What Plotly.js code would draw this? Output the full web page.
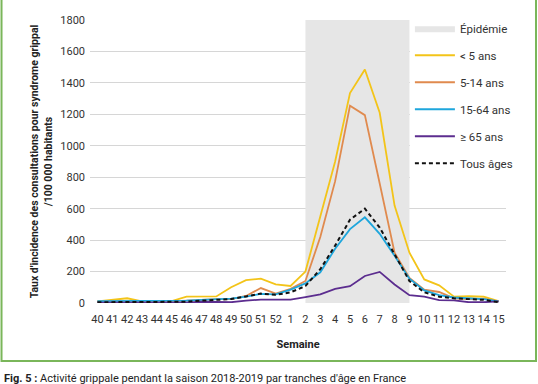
<!DOCTYPE html>
<html>
<head>
<meta charset="utf-8">
<script src="https://cdn.plot.ly/plotly-3.0.1.min.js"></script>
<style>
html,body{margin:0;padding:0;background:#fff;}
#chart{width:538px;height:384px;}
</style>
</head>
<body>
<div id="chart"></div>
<script>
// Semaines (saison 2018-2019)
const weeks = ['40','41','42','43','44','45','46','47','48','49','50','51','52','1','2','3','4','5','6','7','8','9','10','11','12','13','14','15'];
// Période épidémique (début, fin)
const epidemicWeeks = ['2','9'];
const epidemicRange = [0, 1800];
// Taux d'incidence /100 000 habitants
const under5   = [10,20,30,10,10,12,40,42,42,100,145,155,118,108,200,550,900,1335,1485,1210,620,320,150,112,40,43,40,12];
const age5_14  = [10,10,10,10,10,10,15,20,25,25,45,95,60,90,140,420,775,1255,1195,760,320,160,85,70,30,25,28,8];
const age15_64 = [12,12,12,12,12,12,15,20,25,28,40,58,55,85,125,195,345,470,545,440,300,155,80,50,35,30,25,10];
const age65    = [3,3,3,3,3,3,3,8,8,5,15,22,22,22,38,55,90,107,172,198,118,50,40,18,17,5,5,10];
const allAges  = [5,5,5,5,5,5,8,15,22,25,42,60,52,68,108,215,365,530,600,480,310,140,68,40,30,25,20,5];
const seriesNames = ['Épidémie','< 5 ans','5-14 ans','15-64 ans','≥ 65 ans','Tous âges'];

const FONT = 'Roboto, "Noto Sans", sans-serif';
const traces = [
  {
    x: [epidemicWeeks[0], epidemicWeeks[0], epidemicWeeks[1], epidemicWeeks[1], epidemicWeeks[0]],
    y: [epidemicRange[0], epidemicRange[1], epidemicRange[1], epidemicRange[0], epidemicRange[0]],
    mode: 'lines', fill: 'toself', fillcolor: '#e6e6e6',
    line: {width: 0, color: '#e6e6e6'}, name: seriesNames[0], legendgroup: 'g0', hoverinfo: 'skip'
  },
  {x: weeks, y: under5, mode: 'lines', name: seriesNames[1], line: {color: '#f3c419', width: 1.8}, legendgroup: 'g1'},
  {x: weeks, y: age5_14, mode: 'lines', name: seriesNames[2], line: {color: '#e08a4e', width: 1.8}, legendgroup: 'g2'},
  {x: weeks, y: age15_64, mode: 'lines', name: seriesNames[3], line: {color: '#1ea6dc', width: 1.8}, legendgroup: 'g3'},
  {x: weeks, y: age65, mode: 'lines', name: seriesNames[4], line: {color: '#5c2d8f', width: 1.8}, legendgroup: 'g4'},
  {x: weeks, y: allAges, mode: 'lines', name: seriesNames[5], line: {color: '#111111', width: 2, dash: '4px,3px'}, legendgroup: 'g5'}
];

const layout = {
  width: 538, height: 384,
  margin: {l: 90, r: 32, t: 20, b: 81},
  paper_bgcolor: '#ffffff', plot_bgcolor: '#ffffff',
  font: {family: FONT, color: '#333333', size: 11},
  showlegend: true,
  legend: {
    x: 0.769, xanchor: 'left', y: 1.022, yanchor: 'top',
    bgcolor: '#ffffff', borderwidth: 0,
    font: {family: FONT, size: 11.5, color: '#333333'},
    tracegroupgap: 8, itemwidth: 40,
    traceorder: 'grouped'
  },
  xaxis: {
    type: 'category', categoryorder: 'array', categoryarray: weeks,
    range: [-0.5, 27.5], showgrid: false, zeroline: false, showline: false,
    ticks: '', tickfont: {family: FONT, size: 11, color: '#333333'},
    ticklabelstandoff: 8,
    title: {text: 'Semaine', font: {family: FONT, size: 11, color: '#222222', weight: 'bold'}, standoff: 15}
  },
  yaxis: {
    range: [0, 1800], dtick: 200, showgrid: true, gridcolor: '#d6d6d6', gridwidth: 1,
    zeroline: false, showline: false, ticks: '',
    tickfont: {family: FONT, size: 11, color: '#333333'}, ticklabelstandoff: 4,
    title: {text: "Taux d'incidence des consultations pour syndrome grippal<br>/100 000 habitants",
            font: {family: FONT, size: 10.5, color: '#222222', weight: 'bold'}, standoff: 5}
  },
  shapes: [
    {type: 'rect', xref: 'paper', yref: 'paper', x0: -0.2127, x1: 1.0721, y0: -0.205, y1: 1.09,
     line: {color: '#7ab65a', width: 2}, fillcolor: 'rgba(0,0,0,0)', layer: 'below'}
  ],
  annotations: [
    {xref: 'paper', yref: 'paper', x: -0.2115, y: (303 - 370) / 283, xanchor: 'left', yanchor: 'top',
     showarrow: false, align: 'left',
     text: "<b>Fig. 5 :</b> Activité grippale pendant la saison 2018-2019 par tranches d'âge en France",
     font: {family: FONT, size: 11, color: '#222222'}}
  ]
};

Plotly.newPlot('chart', traces, layout, {displayModeBar: false, staticPlot: true});
</script>
</body>
</html>
